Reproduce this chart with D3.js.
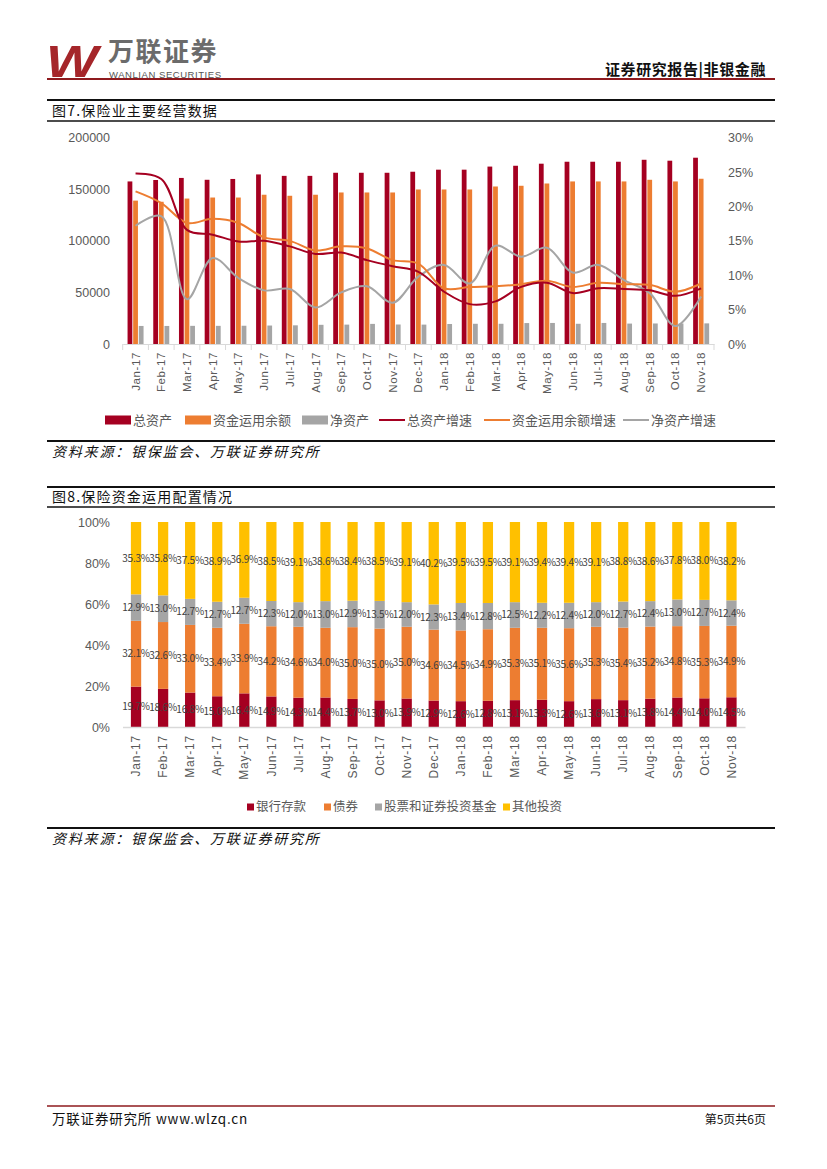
<!DOCTYPE html>
<html>
<head>
<meta charset="utf-8">
<script src="https://cdn.jsdelivr.net/npm/d3@7"></script>
<style>
  body { margin: 0; background: #fff; }
  svg { display: block; font-family: "Noto Sans CJK SC", "Noto Sans", sans-serif; }
</style>
</head>
<body>
<svg id="page" width="827" height="1169"></svg>
<script>
// 月份
const months = ["Jan-17","Feb-17","Mar-17","Apr-17","May-17","Jun-17","Jul-17","Aug-17","Sep-17","Oct-17","Nov-17","Dec-17",
                "Jan-18","Feb-18","Mar-18","Apr-18","May-18","Jun-18","Jul-18","Aug-18","Sep-18","Oct-18","Nov-18"];

// 图7 数据（亿元 / 增速）
const totalAssets = [157600,159000,161000,159200,160000,164400,163000,163000,166000,166000,166000,167000,
                     169000,169000,172000,172800,174800,176700,176700,176700,178600,177700,180600];
const fundBalance = [139000,137900,141000,142000,142000,144700,143700,144700,146900,146900,146900,149800,
                     149800,149800,152700,153400,155600,157600,157600,157600,159200,157600,160200];
const netAssets   = [17500,17500,17600,17600,17700,17900,18100,18600,18800,19500,18900,18800,
                     19400,19600,19600,20300,20400,19600,20400,19800,19900,19900,20000];
const totalGrowth = [0.248,0.240,0.166,0.159,0.149,0.150,0.142,0.131,0.133,0.122,0.113,0.105,
                     0.076,0.058,0.062,0.083,0.089,0.074,0.081,0.080,0.078,0.070,0.081];
const fundGrowth  = [0.222,0.205,0.176,0.182,0.176,0.155,0.150,0.136,0.142,0.139,0.122,0.117,
                     0.081,0.083,0.084,0.087,0.092,0.083,0.089,0.087,0.086,0.076,0.088];
const netGrowth   = [0.172,0.186,0.065,0.125,0.096,0.078,0.080,0.053,0.075,0.084,0.060,0.098,
                     0.115,0.088,0.143,0.127,0.140,0.104,0.115,0.093,0.074,0.026,0.069];
const leftTicks  = [0, 50000, 100000, 150000, 200000];
const rightTicks = [0, 0.05, 0.10, 0.15, 0.20, 0.25, 0.30];

// 图8 数据（%）
const bankDeposit = [19.7,18.6,16.8,15.0,16.4,14.9,14.3,14.4,13.7,13.0,13.9,12.9,
                     12.6,12.8,13.1,13.3,12.6,13.6,13.1,13.8,14.4,14.0,14.5];
const bonds       = [32.1,32.6,33.0,33.4,33.9,34.2,34.6,34.0,35.0,35.0,35.0,34.6,
                     34.5,34.9,35.3,35.1,35.6,35.3,35.4,35.2,34.8,35.3,34.9];
const stocks      = [12.9,13.0,12.7,12.7,12.7,12.3,12.0,13.0,12.9,13.5,12.0,12.3,
                     13.4,12.8,12.5,12.2,12.4,12.0,12.7,12.4,13.0,12.7,12.4];
const others      = [35.3,35.8,37.5,38.9,36.9,38.5,39.1,38.6,38.4,38.5,39.1,40.2,
                     39.5,39.5,39.1,39.4,39.4,39.1,38.8,38.6,37.8,38.0,38.2];
const pctTicks = [0, 0.2, 0.4, 0.6, 0.8, 1.0];

const RED = "#A50021", ORANGE = "#ED7D31", GRAY = "#A5A5A5", YELLOW = "#FFC000";
const AXIS_TXT = "#595959", AXIS_LINE = "#D9D9D9";

const svg = d3.select("#page");

// ---------- 页眉 ----------
svg.append("text").attr("transform", "translate(46,77) scale(1.25,1)")
   .attr("font-size", 44).attr("font-weight", "bold").attr("font-style", "italic")
   .attr("font-family", "Liberation Sans, Arial").attr("fill", "#A5262A").text("W");
svg.append("text").attr("x", 108).attr("y", 61)
   .attr("font-size", 26).attr("font-weight", "bold").attr("letter-spacing", 1.5).attr("fill", "#6b6b6b").text("万联证券");
svg.append("text").attr("x", 109).attr("y", 77.5)
   .attr("font-size", 9.5).attr("fill", "#555").attr("font-family", "Liberation Sans, Arial")
   .attr("textLength", 112).text("WANLIAN SECURITIES");
svg.append("text").attr("x", 766).attr("y", 75).attr("text-anchor", "end")
   .attr("font-size", 15).attr("letter-spacing", 0.6).attr("font-weight", "bold").attr("fill", "#111")
   .text("证券研究报告|非银金融");
svg.append("line").attr("x1", 47).attr("x2", 775).attr("y1", 79).attr("y2", 79)
   .attr("stroke", "#8E1A1E").attr("stroke-width", 2);

function hline(y, w) {
  svg.append("line").attr("x1", 47).attr("x2", 775).attr("y1", y).attr("y2", y)
     .attr("stroke", "#111").attr("stroke-width", w);
}
function titleText(y, t) {
  svg.append("text").attr("x", 52).attr("y", y).attr("font-size", 14).attr("letter-spacing", 1.2)
     .attr("fill", "#111").text(t);
}
function sourceText(y) {
  svg.append("text").attr("x", 52).attr("y", y).attr("font-size", 14).attr("letter-spacing", 1.8)
     .attr("font-style", "italic").attr("fill", "#111").text("资料来源：银保监会、万联证券研究所");
}

// ---------- 图7 ----------
hline(100, 2);
titleText(116, "图7.保险业主要经营数据");
hline(121, 1.5);

const x0 = d3.scaleBand().domain(months).range([122.7, 714]);
const x1 = d3.scaleBand().domain(["t", "f", "n"])
  .range([x0.bandwidth() / 2 - 8, x0.bandwidth() / 2 + 8]).paddingInner(0.15);
const yL = d3.scaleLinear().domain([0, 200000]).range([344, 137.7]);
const yR = d3.scaleLinear().domain([0, 0.30]).range([344, 137.7]);

const c1 = svg.append("g");
const rows1 = months.map((m, i) => ({ m, t: totalAssets[i], f: fundBalance[i], n: netAssets[i] }));
const barColor = { t: RED, f: ORANGE, n: GRAY };

c1.selectAll(".grp").data(rows1).enter().append("g")
  .attr("transform", d => "translate(" + x0(d.m) + ",0)")
  .selectAll("rect").data(d => ["t", "f", "n"].map(k => ({ k, v: d[k] })))
  .enter().append("rect")
    .attr("x", d => x1(d.k)).attr("width", x1.bandwidth())
    .attr("y", d => yL(d.v)).attr("height", d => yL(0) - yL(d.v))
    .attr("fill", d => barColor[d.k]);

// x 轴
const xa = c1.append("g").attr("transform", "translate(0,344)")
  .call(d3.axisBottom(x0).tickSize(0).tickPadding(0));
xa.select(".domain").attr("stroke", AXIS_LINE);
xa.selectAll("text").attr("transform", "rotate(-90)").attr("x", -8).attr("y", 0).attr("dy", "0.35em")
  .style("text-anchor", "end").attr("font-size", 11.5).attr("letter-spacing", 0.6).attr("fill", AXIS_TXT);
c1.selectAll(".btick").data(months.concat(["end"])).enter().append("line")
  .attr("x1", d => d === "end" ? x0.range()[1] : x0(d))
  .attr("x2", d => d === "end" ? x0.range()[1] : x0(d))
  .attr("y1", 344).attr("y2", 350).attr("stroke", AXIS_LINE);

// y 轴
const la = c1.append("g").attr("transform", "translate(110,0)")
  .call(d3.axisLeft(yL).tickValues(leftTicks).tickSize(0).tickPadding(0).tickFormat(d3.format("d")));
la.select(".domain").remove();
la.selectAll("text").attr("font-size", 12.5).attr("fill", AXIS_TXT);
const ra = c1.append("g").attr("transform", "translate(728,0)")
  .call(d3.axisRight(yR).tickValues(rightTicks).tickSize(0).tickPadding(0).tickFormat(d3.format(".0%")));
ra.select(".domain").remove();
ra.selectAll("text").attr("font-size", 12.5).attr("fill", AXIS_TXT);

// 折线
const cx = m => x0(m) + x0.bandwidth() / 2;
const line = d3.line().x((d, i) => cx(months[i])).y(d => yR(d)).curve(d3.curveCatmullRom.alpha(0.5));
[[netGrowth, GRAY], [fundGrowth, ORANGE], [totalGrowth, RED]].forEach(([s, col]) => {
  c1.append("path").datum(s).attr("d", line).attr("fill", "none")
    .attr("stroke", col).attr("stroke-width", 2);
});

// 图例
const legend1 = [
  { t: "总资产", c: RED, type: "rect", x: 105 },
  { t: "资金运用余额", c: ORANGE, type: "rect", x: 185 },
  { t: "净资产", c: GRAY, type: "rect", x: 302 },
  { t: "总资产增速", c: RED, type: "line", x: 379 },
  { t: "资金运用余额增速", c: ORANGE, type: "line", x: 484 },
  { t: "净资产增速", c: GRAY, type: "line", x: 623 }
];
const lg1 = c1.selectAll(".lg").data(legend1).enter().append("g")
  .attr("transform", d => "translate(" + d.x + ",420)");
lg1.filter(d => d.type === "rect").append("rect")
  .attr("x", 0).attr("y", -4.5).attr("width", 26).attr("height", 9).attr("fill", d => d.c);
lg1.filter(d => d.type === "line").append("line")
  .attr("x1", 0).attr("x2", 26).attr("y1", 0).attr("y2", 0).attr("stroke", d => d.c).attr("stroke-width", 2);
lg1.append("text").attr("x", 28).attr("y", 0).attr("dy", "0.35em")
  .attr("font-size", 13).attr("fill", AXIS_TXT).text(d => d.t);

hline(441, 2);
sourceText(457);

// ---------- 图8 ----------
hline(487, 2);
titleText(502, "图8.保险资金运用配置情况");
hline(507, 1.5);

const x2 = d3.scaleBand().domain(months).range([122.5, 745]).paddingInner(0.62).paddingOuter(0.31);
const y2 = d3.scaleLinear().domain([0, 1]).range([727, 522]);
const keys = ["bank", "bond", "stock", "other"];
const rows2 = months.map((m, i) => ({ m, bank: bankDeposit[i], bond: bonds[i], stock: stocks[i], other: others[i] }));
const stack = d3.stack().keys(keys).offset(d3.stackOffsetExpand)(rows2);
const segColor = { bank: RED, bond: ORANGE, stock: GRAY, other: YELLOW };

const c2 = svg.append("g");
const layers = c2.selectAll(".layer").data(stack).enter().append("g")
  .attr("fill", d => segColor[d.key]);
layers.selectAll("rect").data(d => d).enter().append("rect")
  .attr("x", d => x2(d.data.m)).attr("width", x2.bandwidth())
  .attr("y", d => y2(d[1])).attr("height", d => y2(d[0]) - y2(d[1]));

stack.forEach(layer => {
  c2.append("g").selectAll("text").data(layer).enter().append("text")
    .attr("x", d => x2(d.data.m) + x2.bandwidth() / 2)
    .attr("y", d => y2((d[0] + d[1]) / 2)).attr("dy", "0.35em")
    .attr("text-anchor", "middle").attr("font-size", 10).attr("letter-spacing", -0.2).attr("fill", "#404040")
    .text(d => d.data[layer.key].toFixed(1) + "%");
});

const xa2 = c2.append("g").attr("transform", "translate(0,727)")
  .call(d3.axisBottom(x2).tickSize(0).tickPadding(0));
xa2.select(".domain").attr("stroke", AXIS_LINE).attr("stroke-width", 1.5);
xa2.selectAll("text").attr("transform", "rotate(-90)").attr("x", -8).attr("y", 0).attr("dy", "0.35em")
  .style("text-anchor", "end").attr("font-size", 12).attr("letter-spacing", 0.8).attr("fill", AXIS_TXT);

const ya2 = c2.append("g").attr("transform", "translate(110,0)")
  .call(d3.axisLeft(y2).tickValues(pctTicks).tickSize(0).tickPadding(0).tickFormat(d3.format(".0%")));
ya2.select(".domain").remove();
ya2.selectAll("text").attr("font-size", 12.5).attr("fill", AXIS_TXT);

const legend2 = [
  { t: "银行存款", k: "bank", x: 247 },
  { t: "债券", k: "bond", x: 324 },
  { t: "股票和证券投资基金", k: "stock", x: 375 },
  { t: "其他投资", k: "other", x: 503 }
];
const lg2 = c2.selectAll(".lg2").data(legend2).enter().append("g")
  .attr("transform", d => "translate(" + d.x + ",807)");
lg2.append("rect").attr("x", 0).attr("y", -3.5).attr("width", 7).attr("height", 7)
  .attr("fill", d => segColor[d.k]);
lg2.append("text").attr("x", 9).attr("y", 0).attr("dy", "0.35em")
  .attr("font-size", 12.5).attr("fill", AXIS_TXT).text(d => d.t);

hline(828, 2);
sourceText(844);

// ---------- 页脚 ----------
svg.append("line").attr("x1", 47).attr("x2", 775).attr("y1", 1106).attr("y2", 1106)
   .attr("stroke", "#8E1A1E").attr("stroke-width", 1.5);
svg.append("text").attr("x", 52).attr("y", 1124).attr("font-size", 13.5).attr("letter-spacing", 0.8)
   .attr("fill", "#111").text("万联证券研究所 www.wlzq.cn");
svg.append("text").attr("x", 766).attr("y", 1124).attr("text-anchor", "end")
   .attr("font-size", 12).attr("fill", "#111").text("第5页共6页");
</script>
</body>
</html>
